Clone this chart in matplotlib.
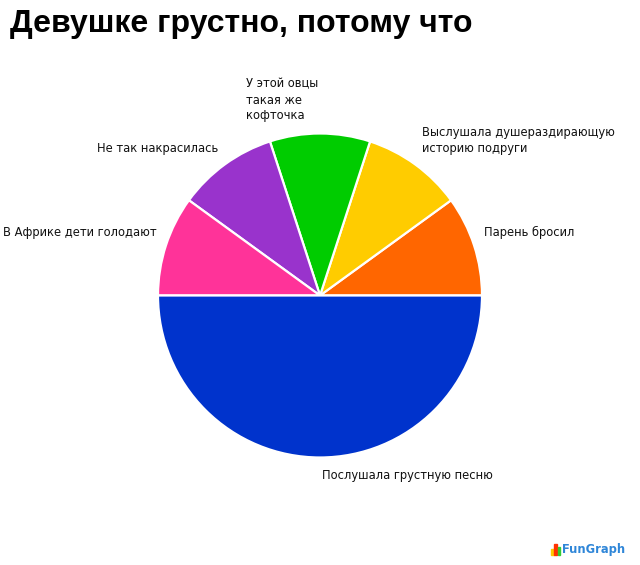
import numpy as np
import matplotlib
matplotlib.use("Agg")
import matplotlib.pyplot as plt
from matplotlib.patches import Rectangle

# Reasons, in drawing order (counter-clockwise from 3 o'clock)
reasons = [
    "Парень бросил",
    "Выслушала душераздирающую\nисторию подруги",
    "У этой овцы\nтакая же\nкофточка",
    "Не так накрасилась",
    "В Африке дети голодают",
    "Послушала грустную песню",
]
shares = [10, 10, 10, 10, 10, 50]
colors = ["#FF6600", "#FFCC00", "#00CC00", "#9933CC", "#FF3399", "#0033CC"]
title = "Девушке грустно, потому что"

# Horizontal alignment of each label relative to its anchor
label_ha = ["left", "left", "right", "right", "right", "left"]

W, H = 640, 565
fig = plt.figure(figsize=(W / 100, H / 100), dpi=100)
fig.patch.set_facecolor("white")

cx, cy, R = 320, 295.5, 162
ax = fig.add_axes([(cx - R) / W, (H - cy - R) / H, 2 * R / W, 2 * R / H])
wedges, _ = ax.pie(
    shares,
    colors=colors,
    startangle=0,
    counterclock=True,
    radius=1.0,
    wedgeprops=dict(edgecolor="white", linewidth=1.6),
)
ax.set_xlim(-1, 1)
ax.set_ylim(-1, 1)
ax.set_aspect("equal")
ax.axis("off")

# Labels hang off the rim at each wedge's mid-angle, nudged outward a few pixels
for w, text, ha in zip(wedges, reasons, label_ha):
    mid = np.deg2rad((w.theta1 + w.theta2) / 2)
    c, s = np.cos(mid), np.sin(mid)
    side = 1 if ha == "left" else -1
    up = 1 if s > 0 else -1
    dx = 8 * c + 2 * side
    dy = up * (5 + 6 * abs(s))
    ax.annotate(text, xy=(c, s), xytext=(dx, dy), textcoords="offset pixels",
                ha=ha, va="bottom" if up > 0 else "top", multialignment="left",
                fontsize=8.3, color="#111111", family="DejaVu Sans",
                linespacing=1.3, annotation_clip=False)

fig.text(10 / W, 1 - 24 / H, title, ha="left", va="center",
         fontsize=23, fontweight="bold", family="Liberation Sans", color="black")

# Small FunGraph mark in the lower right corner
bar_cols = ["#FFCC00", "#FF3300", "#33CC33"]
bar_h = [6, 11, 8]
for i, (col, h) in enumerate(zip(bar_cols, bar_h)):
    fig.patches.append(Rectangle(((551 + i * 3.3) / W, (H - 555) / H), 2.6 / W, h / H,
                                 transform=fig.transFigure, color=col))
fig.text(562 / W, 1 - 549 / H, "FunGraph", ha="left", va="center",
         fontsize=8.3, fontweight="bold", family="DejaVu Sans", color="#2F86D8")

fig.savefig("out.png", dpi=100, facecolor="white")
